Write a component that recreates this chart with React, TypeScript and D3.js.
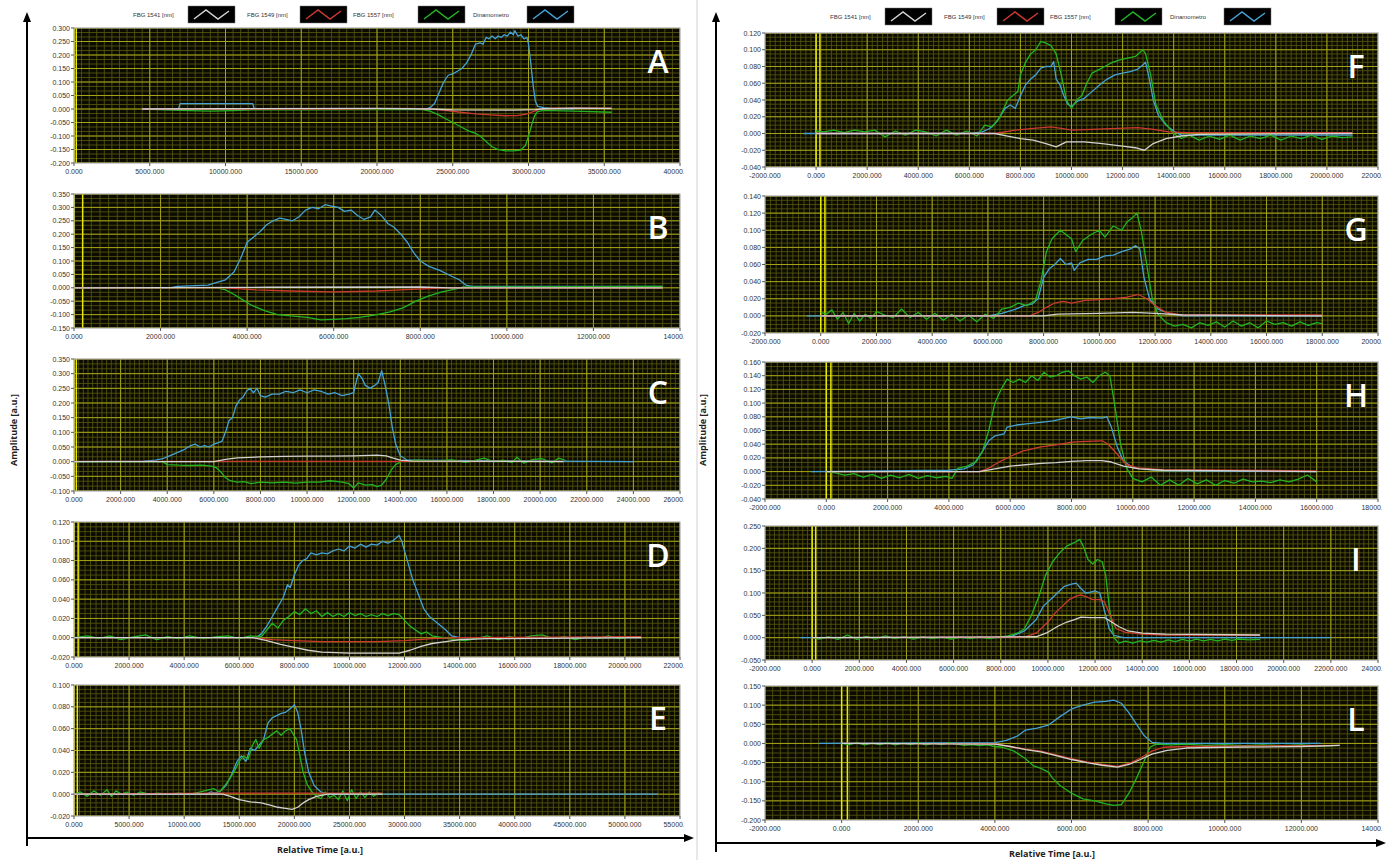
import React from 'react';
import * as d3 from 'd3';

type Pt = [number, number];

// ---------- Legend ----------
const SERIES_NAMES = ['FBG 1541 [nm]', 'FBG 1549 [nm]', 'FBG 1557 [nm]', 'Dinamometro'];
const SERIES_COLORS = ['#d2d2d2', '#cc3a2e', '#22b422', '#45a2d6'];
const PANEL_LETTERS = ['A', 'B', 'C', 'D', 'E', 'F', 'G', 'H', 'I', 'L'];

// ---------- Panel A ----------
const A_blue: Pt[] = [[4500,0],[6900,0],[7000,0.02],[11800,0.02],[11900,0],[23200,0],[23500,0.005],[23800,0.02],[24100,0.06],[24400,0.1],[24700,0.125],[25000,0.13],[25300,0.14],[25600,0.15],[25900,0.17],[26200,0.2],[26500,0.24],[26800,0.245],[27000,0.24],[27200,0.265],[27400,0.26],[27600,0.27],[27800,0.26],[28000,0.27],[28200,0.265],[28400,0.275],[28600,0.27],[28800,0.285],[29000,0.275],[29100,0.29],[29300,0.27],[29500,0.275],[29700,0.26],[29900,0.265],[30000,0.24],[30150,0.17],[30300,0.09],[30450,0.03],[30600,0.01],[31000,0.005],[31500,0.002],[33000,0]];
const A_green: Pt[] = [[4500,0],[7000,-0.005],[9000,-0.008],[10500,-0.006],[11800,-0.003],[15000,-0.003],[20000,-0.002],[23000,-0.002],[23500,-0.008],[24000,-0.02],[24500,-0.035],[25000,-0.05],[25500,-0.065],[26000,-0.08],[26500,-0.09],[26800,-0.1],[27200,-0.12],[27600,-0.14],[28000,-0.15],[28500,-0.155],[29000,-0.155],[29500,-0.152],[29800,-0.135],[30000,-0.1],[30200,-0.06],[30400,-0.025],[30600,-0.01],[31000,-0.005],[33000,-0.008],[35500,-0.012]];
const A_red: Pt[] = [[4500,0],[18000,0],[22000,0.002],[23500,0],[24500,-0.005],[25500,-0.012],[26500,-0.018],[27500,-0.022],[28500,-0.025],[29300,-0.024],[29800,-0.02],[30300,-0.01],[30800,0],[31500,0.003],[35500,0.003]];
const A_white: Pt[] = [[4500,0],[10000,0.001],[20000,0.002],[23500,0],[25000,-0.003],[29000,-0.004],[30500,-0.002],[31000,0.001],[33000,0.003],[35500,0.002]];
const A_cursor = [0, 150];

// ---------- Panel B ----------
const B_blue: Pt[] = [[0,0],[2200,0],[2400,0.005],[2800,0.008],[3100,0.01],[3300,0.02],[3500,0.03],[3700,0.06],[3850,0.11],[4000,0.17],[4150,0.19],[4300,0.21],[4450,0.235],[4600,0.25],[4750,0.26],[4900,0.255],[5050,0.25],[5200,0.265],[5350,0.29],[5500,0.3],[5650,0.295],[5800,0.31],[5950,0.305],[6100,0.3],[6250,0.285],[6400,0.29],[6550,0.27],[6700,0.255],[6850,0.265],[6950,0.29],[7100,0.27],[7250,0.24],[7400,0.225],[7550,0.2],[7700,0.17],[7850,0.13],[8000,0.1],[8200,0.08],[8450,0.065],[8700,0.045],[8900,0.03],[9050,0.01],[9200,0.005],[13600,0.005]];
const B_green: Pt[] = [[0,0],[3300,0],[3500,-0.008],[3700,-0.025],[3900,-0.045],[4100,-0.065],[4400,-0.085],[4700,-0.1],[5000,-0.105],[5400,-0.11],[5700,-0.12],[6000,-0.118],[6300,-0.115],[6600,-0.11],[7000,-0.1],[7300,-0.09],[7600,-0.075],[7900,-0.05],[8200,-0.03],[8500,-0.015],[8800,-0.005],[9000,0.003],[13600,0.005]];
const B_red: Pt[] = [[0,0],[3500,0],[4200,-0.008],[5000,-0.012],[6000,-0.015],[7000,-0.012],[7800,-0.006],[8600,0],[13600,0]];
const B_white: Pt[] = [[0,0],[4500,0.002],[8000,0.003],[8700,0],[13600,0]];
const B_cursor = [0, 200];

// ---------- Panel C ----------
const C_blue: Pt[] = [[0,0],[3000,0.002],[3500,0.005],[3800,0.01],[4100,0.02],[4400,0.03],[4700,0.04],[5000,0.055],[5200,0.06],[5400,0.05],[5600,0.055],[5800,0.05],[6000,0.06],[6200,0.065],[6350,0.07],[6500,0.1],[6650,0.14],[6800,0.15],[6950,0.19],[7100,0.21],[7250,0.22],[7400,0.24],[7550,0.25],[7700,0.235],[7850,0.25],[8000,0.225],[8200,0.22],[8500,0.23],[8800,0.23],[9100,0.24],[9400,0.235],[9700,0.245],[10000,0.235],[10300,0.245],[10600,0.24],[10900,0.23],[11200,0.235],[11500,0.225],[11800,0.23],[12000,0.235],[12100,0.27],[12200,0.3],[12350,0.285],[12500,0.26],[12700,0.25],[12900,0.26],[13050,0.27],[13200,0.31],[13350,0.26],[13500,0.2],[13650,0.12],[13800,0.06],[14000,0.02],[14300,0.005],[24000,0]];
const C_green: Pt[] = [[0,0],[3800,0],[4000,-0.01],[4500,-0.012],[5000,-0.013],[5500,-0.012],[5900,-0.015],[6100,-0.02],[6300,-0.035],[6500,-0.055],[6700,-0.065],[7000,-0.07],[7300,-0.068],[7600,-0.075],[8000,-0.07],[8500,-0.072],[9000,-0.07],[9500,-0.073],[10000,-0.07],[10500,-0.07],[11000,-0.065],[11500,-0.07],[11800,-0.075],[12000,-0.09],[12200,-0.072],[12500,-0.08],[12800,-0.078],[13000,-0.085],[13200,-0.08],[13400,-0.06],[13600,-0.03],[13800,-0.01],[14100,0.003],[14800,0.005],[15500,0.002],[16200,0.006],[16800,-0.002],[17200,0.004],[17600,0.012],[18000,0],[18400,0.005],[18800,-0.003],[19000,0.015],[19300,-0.005],[19700,0.008],[20100,0.01],[20500,-0.004],[20800,0.012],[21100,0.004]];
const C_red: Pt[] = [[0,0.001],[21000,0.001]];
const C_white: Pt[] = [[0,0],[6000,0],[6500,0.008],[7000,0.013],[8000,0.016],[9000,0.018],[10000,0.019],[11000,0.019],[12000,0.02],[13000,0.022],[13400,0.02],[13700,0.012],[14000,0.005],[14500,0.002],[21000,0]];
const C_cursor = [0, 100];

// ---------- Panel D ----------
const D_blue: Pt[] = [[0,0],[6600,0],[6800,0.004],[7000,0.012],[7200,0.022],[7400,0.032],[7600,0.042],[7750,0.055],[7850,0.052],[8000,0.065],[8150,0.075],[8300,0.08],[8450,0.082],[8600,0.088],[8800,0.086],[9000,0.088],[9200,0.087],[9400,0.09],[9600,0.092],[9800,0.09],[10000,0.095],[10200,0.093],[10400,0.097],[10600,0.094],[10800,0.097],[11000,0.096],[11200,0.1],[11400,0.098],[11600,0.101],[11800,0.106],[11900,0.1],[12000,0.09],[12150,0.075],[12300,0.06],[12500,0.045],[12700,0.03],[12900,0.022],[13200,0.015],[13500,0.008],[13700,0.002],[14000,0],[20600,0]];
const D_green: Pt[] = [[0,0],[500,0.002],[900,-0.001],[1300,0.002],[1700,-0.002],[2200,0.001],[2600,0.003],[3000,-0.002],[3400,0.001],[3800,-0.001],[4200,0.002],[4700,-0.001],[5200,0.001],[5600,0.002],[6000,-0.001],[6400,0.002],[6800,0.001],[7000,0.008],[7200,0.015],[7400,0.01],[7600,0.018],[7800,0.022],[8000,0.027],[8200,0.024],[8400,0.03],[8600,0.025],[8800,0.028],[9000,0.022],[9200,0.026],[9400,0.022],[9600,0.025],[9800,0.022],[10000,0.026],[10200,0.023],[10400,0.025],[10600,0.022],[10800,0.024],[11000,0.022],[11200,0.025],[11400,0.023],[11600,0.025],[11800,0.024],[12000,0.018],[12200,0.012],[12400,0.008],[12600,0.004],[12800,0.006],[13000,0.002],[13400,0],[13800,-0.002],[14200,-0.003],[14600,-0.001],[15000,0.002],[15400,-0.002],[15800,0.001],[16200,-0.001],[16600,0.002],[17000,0.003],[17400,-0.001],[17800,0.001],[18200,-0.002],[18600,0.001],[19000,-0.001],[19400,0.002],[19800,-0.001],[20200,0.001],[20600,0]];
const D_red: Pt[] = [[0,0],[6500,0],[7200,-0.002],[8000,-0.003],[9000,-0.004],[10000,-0.004],[11000,-0.004],[12000,-0.003],[13000,-0.001],[14000,0],[20600,0.001]];
const D_white: Pt[] = [[0,0],[6500,0],[7000,-0.003],[7500,-0.007],[8000,-0.01],[8500,-0.013],[9000,-0.015],[10000,-0.016],[11000,-0.016],[11800,-0.016],[12200,-0.013],[12600,-0.009],[13000,-0.006],[13500,-0.004],[14000,-0.002],[15000,-0.001],[20600,0]];
const D_cursor = [0, 150];

// ---------- Panel E ----------
const E_blue: Pt[] = [[0,0],[12000,0],[12400,0.002],[12800,0.001],[13300,0.003],[13800,0.008],[14300,0.018],[14800,0.03],[15200,0.035],[15600,0.03],[16000,0.042],[16400,0.04],[16800,0.045],[17200,0.05],[17600,0.065],[18000,0.07],[18400,0.072],[18800,0.074],[19200,0.075],[19600,0.078],[20000,0.082],[20300,0.075],[20600,0.06],[20900,0.04],[21300,0.02],[21800,0.008],[22400,0.002],[23000,0],[53000,0]];
const E_green: Pt[] = [[0,0],[600,0.002],[1200,-0.002],[1800,0.003],[2400,-0.001],[3000,0.004],[3400,-0.002],[3800,0.003],[4300,0],[4800,0.002],[5400,-0.001],[6000,0.002],[6800,0],[7600,0.001],[8500,0],[9500,0.001],[10500,0],[11500,0.002],[12200,0.004],[12700,0.005],[13200,0.002],[13700,0.008],[14200,0.015],[14600,0.022],[15000,0.03],[15400,0.035],[15800,0.032],[16200,0.045],[16500,0.05],[16800,0.042],[17200,0.05],[17600,0.052],[18000,0.055],[18400,0.058],[18800,0.054],[19200,0.058],[19600,0.06],[19900,0.055],[20200,0.05],[20500,0.035],[20800,0.02],[21200,0.008],[21600,0.002],[22000,-0.002],[22400,-0.004],[22800,0.002],[23200,-0.003],[23600,-0.001],[24000,-0.005],[24400,0.003],[24800,-0.006],[25200,0.004],[25600,-0.004],[26000,0.002],[26400,-0.003],[26800,0.002],[27200,-0.002],[27600,0.001],[28000,0]];
const E_red: Pt[] = [[0,0],[13500,0.001],[28000,0.001]];
const E_white: Pt[] = [[0,0],[13500,0],[14200,-0.002],[15000,-0.005],[16000,-0.007],[17000,-0.008],[17800,-0.01],[18500,-0.012],[19200,-0.013],[19800,-0.014],[20300,-0.012],[20800,-0.008],[21300,-0.005],[22000,-0.002],[23000,0],[28000,0]];
const E_cursor = [0, 300];

// ---------- Panel F ----------
const F_blue: Pt[] = [[-500,0],[6000,0],[6500,0.002],[6800,0.006],[7100,0.015],[7400,0.03],[7600,0.034],[7800,0.03],[8000,0.045],[8200,0.058],[8400,0.065],[8600,0.07],[8800,0.078],[9000,0.08],[9200,0.08],[9300,0.086],[9400,0.065],[9550,0.058],[9700,0.045],[9850,0.035],[10000,0.032],[10200,0.038],[10500,0.042],[10800,0.05],[11100,0.058],[11400,0.065],[11700,0.07],[12000,0.072],[12300,0.074],[12600,0.077],[12800,0.082],[12900,0.085],[13050,0.065],[13200,0.04],[13400,0.022],[13700,0.01],[14000,0.003],[14300,-0.002],[16000,-0.002],[18000,-0.002],[21000,-0.002]];
const F_green: Pt[] = [[0,0.003],[300,0.002],[700,0.004],[1100,0.001],[1500,0.004],[1900,0.002],[2300,0.004],[2700,-0.004],[3100,0.003],[3500,-0.002],[3900,0.004],[4300,0.002],[4700,-0.003],[5100,0.004],[5500,-0.002],[5900,0.003],[6300,-0.003],[6600,0.01],[6900,0.008],[7200,0.02],[7500,0.04],[7700,0.045],[7900,0.05],[8000,0.07],[8200,0.085],[8400,0.095],[8600,0.1],[8800,0.11],[9000,0.108],[9200,0.105],[9400,0.095],[9600,0.07],[9800,0.04],[10000,0.03],[10200,0.04],[10400,0.045],[10600,0.06],[10800,0.072],[11000,0.075],[11300,0.08],[11600,0.085],[11900,0.088],[12200,0.09],[12500,0.092],[12800,0.1],[12900,0.095],[13100,0.07],[13300,0.035],[13600,0.015],[14000,0],[14300,-0.006],[14600,-0.002],[15000,-0.008],[15400,-0.003],[15800,-0.007],[16200,-0.002],[16600,-0.008],[17000,-0.003],[17400,-0.006],[17800,-0.002],[18200,-0.008],[18600,-0.003],[19000,-0.006],[19400,-0.002],[19800,-0.007],[20200,-0.003],[20600,-0.005],[21000,-0.004]];
const F_red: Pt[] = [[0,0],[7000,0],[7800,0.004],[8500,0.006],[9200,0.008],[9600,0.006],[10000,0.004],[10800,0.005],[11800,0.006],[12600,0.007],[13200,0.005],[13800,0.002],[14500,0.001],[21000,0.001]];
const F_white: Pt[] = [[0,0],[7000,0],[7500,-0.003],[8000,-0.006],[8500,-0.008],[9000,-0.012],[9400,-0.016],[9800,-0.01],[10500,-0.01],[11200,-0.012],[12000,-0.015],[12500,-0.017],[12850,-0.02],[13200,-0.012],[13700,-0.006],[14300,-0.003],[15000,-0.001],[21000,0]];
const F_cursor = [0, 150];

// ---------- Panel G ----------
const G_blue: Pt[] = [[-500,0],[6000,0],[6500,0.003],[7000,0.008],[7300,0.012],[7600,0.014],[7800,0.02],[8000,0.045],[8200,0.055],[8400,0.06],[8600,0.067],[8800,0.06],[9000,0.062],[9100,0.053],[9300,0.062],[9600,0.066],[9900,0.066],[10200,0.07],[10500,0.071],[10800,0.075],[11100,0.078],[11300,0.082],[11450,0.078],[11600,0.045],[11800,0.02],[12100,0.008],[12500,0.003],[13000,0],[18000,0]];
const G_green: Pt[] = [[0,0.004],[200,0.002],[400,0.007],[600,-0.004],[800,0.004],[1000,-0.009],[1200,0.003],[1400,-0.006],[1600,0.002],[1800,-0.003],[2000,0.005],[2300,0.001],[2600,-0.002],[2900,0.008],[3200,-0.002],[3500,0.004],[3800,-0.004],[4100,0.003],[4400,-0.005],[4700,0.002],[5000,-0.006],[5300,0.001],[5600,-0.007],[5900,0.002],[6200,-0.003],[6500,0.008],[6800,0.01],[7100,0.015],[7400,0.012],[7700,0.018],[7900,0.04],[8100,0.075],[8300,0.09],[8600,0.1],[8800,0.095],[9000,0.09],[9150,0.075],[9400,0.088],[9700,0.095],[10000,0.1],[10200,0.092],[10500,0.105],[10800,0.1],[11000,0.11],[11200,0.115],[11350,0.12],[11500,0.1],[11700,0.06],[11900,0.02],[12100,0.002],[12400,-0.008],[12700,-0.012],[13000,-0.01],[13300,-0.014],[13600,-0.008],[13900,-0.011],[14200,-0.007],[14500,-0.013],[14800,-0.006],[15100,-0.012],[15400,-0.008],[15700,-0.014],[16000,-0.006],[16300,-0.01],[16600,-0.008],[16900,-0.012],[17200,-0.007],[17500,-0.011],[17800,-0.008],[18000,-0.009]];
const G_red: Pt[] = [[0,0],[7500,0],[7800,0.004],[8100,0.01],[8400,0.015],[8700,0.017],[9000,0.015],[9500,0.018],[10000,0.019],[10500,0.02],[11000,0.022],[11400,0.025],[11700,0.02],[12000,0.012],[12400,0.004],[13000,0.001],[18000,0.001]];
const G_white: Pt[] = [[0,0],[8000,0],[8500,0.002],[10000,0.003],[11200,0.004],[12000,0.003],[13000,0.001],[18000,0]];
const G_cursor = [0, 150];

// ---------- Panel H ----------
const H_blue: Pt[] = [[-500,0],[4000,0.002],[4500,0.004],[4800,0.01],[5100,0.03],[5300,0.045],[5500,0.052],[5800,0.055],[5900,0.065],[6200,0.068],[6600,0.07],[7000,0.072],[7400,0.074],[7800,0.078],[8000,0.08],[8300,0.077],[8600,0.079],[9000,0.078],[9150,0.08],[9300,0.065],[9500,0.035],[9700,0.015],[10000,0.006],[10500,0.003],[11000,0.001],[16000,0]];
const H_green: Pt[] = [[0,0],[300,-0.002],[600,-0.005],[900,-0.003],[1200,-0.008],[1500,-0.004],[1800,-0.01],[2100,-0.005],[2400,-0.009],[2700,-0.004],[3000,-0.01],[3300,-0.006],[3600,-0.009],[3900,-0.007],[4100,-0.01],[4300,0.005],[4600,0.008],[4900,0.015],[5100,0.03],[5300,0.06],[5500,0.1],[5700,0.12],[5900,0.135],[6100,0.13],[6300,0.135],[6500,0.13],[6700,0.14],[6900,0.133],[7100,0.145],[7300,0.138],[7500,0.14],[7700,0.145],[7900,0.147],[8100,0.14],[8300,0.135],[8500,0.138],[8700,0.13],[8900,0.14],[9100,0.145],[9250,0.14],[9400,0.1],[9600,0.04],[9800,0.005],[10000,-0.01],[10300,-0.015],[10600,-0.008],[10900,-0.02],[11200,-0.012],[11500,-0.02],[11800,-0.01],[12100,-0.018],[12400,-0.012],[12700,-0.02],[13000,-0.013],[13300,-0.017],[13600,-0.011],[13900,-0.015],[14200,-0.014],[14500,-0.016],[14800,-0.012],[15100,-0.015],[15400,-0.011],[15700,-0.005],[16000,-0.015]];
const H_red: Pt[] = [[0,0],[5000,0],[5300,0.005],[5600,0.013],[6000,0.022],[6400,0.03],[7000,0.036],[7500,0.039],[8000,0.043],[8500,0.044],[9000,0.045],[9200,0.04],[9500,0.025],[9800,0.01],[10200,0.005],[11000,0.003],[16000,0.001]];
const H_white: Pt[] = [[0,0],[5000,0],[5500,0.004],[6000,0.008],[6500,0.01],[7000,0.012],[7500,0.013],[8000,0.015],[8500,0.016],[9000,0.016],[9300,0.014],[9700,0.008],[10200,0.004],[11000,0.002],[16000,0]];
const H_cursor = [0, 150];

// ---------- Panel I ----------
const I_blue: Pt[] = [[-500,0],[8000,0],[8500,0.004],[9000,0.015],[9500,0.04],[9800,0.07],[10100,0.085],[10400,0.1],[10700,0.115],[11000,0.12],[11200,0.122],[11400,0.11],[11600,0.1],[11800,0.102],[12000,0.105],[12200,0.1],[12400,0.06],[12600,0.02],[12800,0.005],[13200,0],[22000,0]];
const I_green: Pt[] = [[0,0],[300,-0.003],[700,0.002],[1100,-0.004],[1500,0.006],[1900,-0.004],[2300,0.003],[2700,-0.003],[3100,0.004],[3500,-0.002],[3900,0.002],[4300,-0.003],[4700,0.002],[5100,-0.002],[5500,0.001],[5900,-0.003],[6300,0.001],[6700,-0.002],[7100,0.002],[7500,-0.002],[7900,0.001],[8300,0.004],[8700,0.01],[9000,0.02],[9300,0.05],[9600,0.09],[9900,0.14],[10200,0.17],[10500,0.19],[10800,0.205],[11000,0.21],[11200,0.215],[11350,0.22],[11500,0.205],[11700,0.175],[11900,0.165],[12100,0.175],[12300,0.17],[12450,0.14],[12600,0.07],[12800,0],[13000,-0.012],[13300,-0.008],[13600,-0.012],[13900,-0.007],[14200,-0.01],[14500,-0.006],[14800,-0.01],[15100,-0.005],[15400,-0.009],[15700,-0.004],[16000,-0.008],[16300,-0.003],[16600,-0.007],[16900,-0.004],[17200,-0.007],[17500,-0.003],[17800,-0.006],[18100,-0.003],[18500,-0.005],[19000,-0.004]];
const I_red: Pt[] = [[0,0],[9000,0.001],[9500,0.01],[10000,0.035],[10300,0.055],[10600,0.07],[10900,0.085],[11200,0.093],[11400,0.096],[11700,0.09],[11900,0.085],[12200,0.085],[12400,0.08],[12600,0.055],[12900,0.02],[13300,0.012],[14000,0.008],[15000,0.006],[19000,0.005]];
const I_white: Pt[] = [[0,0],[9500,0.002],[10000,0.012],[10400,0.025],[10800,0.035],[11100,0.04],[11400,0.046],[11800,0.045],[12400,0.045],[12700,0.035],[13000,0.025],[13400,0.015],[14000,0.01],[15000,0.008],[19000,0.006]];
const I_cursor = [0, 150];

// ---------- Panel L ----------
const L_blue: Pt[] = [[-600,0],[4000,0.002],[4300,0.008],[4600,0.02],[4800,0.035],[5100,0.04],[5400,0.048],[5700,0.07],[6000,0.09],[6300,0.1],[6600,0.108],[6900,0.11],[7100,0.113],[7300,0.105],[7500,0.08],[7700,0.05],[7900,0.02],[8100,0.003],[8400,0],[12500,0]];
const L_green: Pt[] = [[0,0],[200,-0.003],[400,0.002],[600,-0.004],[800,0.001],[1000,-0.003],[1200,0.002],[1400,-0.004],[1600,0.001],[1800,-0.003],[2000,0.002],[2200,-0.004],[2400,0.001],[2600,-0.003],[2800,0.002],[3000,-0.002],[3200,-0.005],[3400,-0.003],[3600,-0.006],[3800,-0.004],[4000,-0.008],[4200,-0.01],[4500,-0.02],[4800,-0.04],[5000,-0.058],[5200,-0.065],[5400,-0.075],[5500,-0.09],[5700,-0.11],[6000,-0.13],[6300,-0.145],[6600,-0.15],[6900,-0.158],[7100,-0.162],[7300,-0.16],[7500,-0.13],[7700,-0.09],[7900,-0.045],[8050,-0.01],[8200,-0.002],[8600,-0.004],[9000,-0.002],[9500,-0.005],[10000,-0.003],[10500,-0.006],[11000,-0.004],[11500,-0.006],[12000,-0.004],[12500,-0.007],[13000,-0.005]];
const L_red: Pt[] = [[0,0],[4000,-0.001],[4400,-0.008],[4800,-0.015],[5200,-0.02],[5600,-0.03],[6000,-0.04],[6400,-0.048],[6800,-0.055],[7200,-0.06],[7500,-0.052],[7800,-0.038],[8100,-0.02],[8400,-0.01],[9000,-0.008],[10000,-0.007],[12000,-0.006],[13000,-0.005]];
const L_white: Pt[] = [[0,0],[4000,-0.002],[4400,-0.008],[4800,-0.016],[5200,-0.022],[5600,-0.032],[6000,-0.042],[6400,-0.05],[6800,-0.057],[7200,-0.062],[7500,-0.055],[7800,-0.042],[8100,-0.028],[8500,-0.018],[9000,-0.012],[10000,-0.01],[12000,-0.008],[13000,-0.005]];
const L_cursor = [0, 150];

// ---------- Axis domains ----------
const X_DOMAINS: [number, number, number][] = [
  [0, 40000, 5000], [0, 14000, 2000], [0, 26000, 2000], [0, 22000, 2000], [0, 55000, 5000],
  [-2000, 22000, 2000], [-2000, 20000, 2000], [-2000, 18000, 2000], [-2000, 24000, 2000], [-2000, 14000, 2000],
];
const Y_DOMAINS: [number, number, number][] = [
  [-0.2, 0.3, 0.05], [-0.15, 0.35, 0.05], [-0.1, 0.35, 0.05], [-0.02, 0.12, 0.02], [-0.02, 0.1, 0.02],
  [-0.04, 0.12, 0.02], [-0.02, 0.14, 0.02], [-0.04, 0.16, 0.02], [-0.05, 0.25, 0.05], [-0.2, 0.15, 0.05],
];
const SERIES_DATA: Pt[][][] = [
  [A_white, A_red, A_green, A_blue], [B_white, B_red, B_green, B_blue], [C_white, C_red, C_green, C_blue],
  [D_white, D_red, D_green, D_blue], [E_white, E_red, E_green, E_blue], [F_white, F_red, F_green, F_blue],
  [G_white, G_red, G_green, G_blue], [H_white, H_red, H_green, H_blue], [I_white, I_red, I_green, I_blue],
  [L_white, L_red, L_green, L_blue],
];
const CURSORS = [A_cursor, B_cursor, C_cursor, D_cursor, E_cursor, F_cursor, G_cursor, H_cursor, I_cursor, L_cursor];

// ---------- Layout (positions only) ----------
const LEFT_X = [74, 680];
const RIGHT_X = [765, 1378];
const PANEL_Y: [number, number][] = [
  [28, 163], [194, 328], [359, 491], [522, 657], [685, 816],
  [33, 167], [196, 333], [362, 499], [526, 660], [686, 820],
];

const fmt = (v: number) => (Math.abs(v) < 1e-9 ? '0.000' : v.toFixed(3));

function Panel({ idx }: { idx: number }) {
  const [x0, x1] = idx < 5 ? LEFT_X : RIGHT_X;
  const [top, bottom] = PANEL_Y[idx];
  const [xmin, xmax, xstep] = X_DOMAINS[idx];
  const [ymin, ymax, ystep] = Y_DOMAINS[idx];
  const x = d3.scaleLinear().domain([xmin, xmax]).range([x0, x1]);
  const y = d3.scaleLinear().domain([ymin, ymax]).range([bottom, top]);
  const nx = Math.round((xmax - xmin) / xstep);
  const ny = Math.round((ymax - ymin) / ystep);
  const xt = d3.range(nx + 1).map(i => xmin + i * xstep);
  const yt = d3.range(ny + 1).map(i => ymin + i * ystep);
  const xm = d3.range(nx * 10 + 1).map(i => xmin + (i * xstep) / 10);
  const ysub = Math.max(2, Math.round((bottom - top) / ny / 4.5));
  const ym = d3.range(ny * ysub + 1).map(i => ymin + (i * ystep) / ysub);
  const line = d3.line<Pt>().x(d => x(d[0])).y(d => y(d[1]));
  const clipId = `clip${idx}`;
  const lblClip = `lclip${idx}`;
  const letter = PANEL_LETTERS[idx];
  return (
    <g>
      <defs>
        <clipPath id={clipId}><rect x={x0} y={top} width={x1 - x0} height={bottom - top} /></clipPath>
        <clipPath id={lblClip}><rect x={x0 - 40} y={bottom} width={x1 - x0 + 44} height={20} /></clipPath>
      </defs>
      <rect x={x0} y={top} width={x1 - x0} height={bottom - top} fill="#0b0b00" />
      <g clipPath={`url(#${clipId})`}>
        {xm.map((v, i) => <line key={'xm' + i} x1={x(v)} x2={x(v)} y1={top} y2={bottom} stroke="#5a5a10" strokeWidth={0.8} />)}
        {ym.map((v, i) => <line key={'ym' + i} x1={x0} x2={x1} y1={y(v)} y2={y(v)} stroke="#5a5a10" strokeWidth={0.8} />)}
        {xt.map((v, i) => <line key={'xt' + i} x1={x(v)} x2={x(v)} y1={top} y2={bottom} stroke="#a3a318" strokeWidth={1} />)}
        {yt.map((v, i) => <line key={'yt' + i} x1={x0} x2={x1} y1={y(v)} y2={y(v)} stroke="#a3a318" strokeWidth={1} />)}
        {CURSORS[idx].map((v, i) => <line key={'c' + i} x1={x(v)} x2={x(v)} y1={top} y2={bottom} stroke="#e8e800" strokeWidth={1.5} />)}
        {[3, 2, 1, 0].map(s => (
          <path key={'s' + s} d={line(SERIES_DATA[idx][s]) || ''} fill="none" stroke={SERIES_COLORS[s]} strokeWidth={1.3} strokeLinejoin="round" />
        ))}
      </g>
      <rect x={x0} y={top} width={x1 - x0} height={bottom - top} fill="none" stroke="#9a9a9a" strokeWidth={1} />
      {yt.map((v, i) => (
        <g key={'yl' + i}>
          <line x1={x0 - 3} x2={x0} y1={y(v)} y2={y(v)} stroke="#555" />
          <text x={x0 - 4} y={y(v) + 2.5} fontSize={7} textAnchor="end" fill="#333" fontFamily="Liberation Sans, Arial, sans-serif">{fmt(v)}</text>
        </g>
      ))}
      <g clipPath={`url(#${lblClip})`}>
        {xt.map((v, i) => (
          <g key={'xl' + i}>
            <line x1={x(v)} x2={x(v)} y1={bottom} y2={bottom + 3} stroke="#555" />
            <text x={x(v)} y={bottom + 11} fontSize={7} textAnchor="middle" fill="#333" fontFamily="Liberation Sans, Arial, sans-serif">{fmt(v)}</text>
          </g>
        ))}
      </g>
      <text x={x1 - 22} y={top + 45} fontSize={32} fontWeight="600" textAnchor="middle" fill="#fff" fontFamily="Open Sans, sans-serif">{letter}</text>
    </g>
  );
}

function Legend({ x0, y0 }: { x0: number; y0: number }) {
  const textX = [0, 114, 220, 340];
  const swX = [55, 167, 285, 394];
  return (
    <g>
      {SERIES_NAMES.map((n, i) => {
        const sx = x0 + swX[i];
        const zig = `M${sx + 6},${y0 + 13} L${sx + 18},${y0 + 4} L${sx + 30},${y0 + 13} L${sx + 41},${y0 + 5}`;
        return (
          <g key={n}>
            <text x={x0 + textX[i]} y={y0 + 11} fontSize={6} fill="#333" fontFamily="Liberation Sans, Arial, sans-serif">{n}</text>
            <rect x={sx} y={y0} width={47} height={17} fill="#000" stroke="#777" strokeWidth={0.5} />
            <path d={zig} fill="none" stroke={SERIES_COLORS[i]} strokeWidth={1.5} />
          </g>
        );
      })}
    </g>
  );
}

function Arrows({ ax, yTop, yBot, xEnd, yAxis }: { ax: number; yTop: number; yBot: number; xEnd: number; yAxis: number }) {
  return (
    <g>
      <line x1={ax} x2={ax} y1={yBot} y2={yTop + 8} stroke="#000" strokeWidth={2} />
      <polygon points={`${ax - 4},${yTop + 10} ${ax + 4},${yTop + 10} ${ax},${yTop}`} fill="#000" />
      <line x1={ax} x2={xEnd - 8} y1={yAxis} y2={yAxis} stroke="#000" strokeWidth={2} />
      <polygon points={`${xEnd - 10},${yAxis - 4} ${xEnd - 10},${yAxis + 4} ${xEnd},${yAxis}`} fill="#000" />
    </g>
  );
}

export default function App() {
  return (
    <svg width={1388} height={860} style={{ position: 'absolute', left: 0, top: 0, background: '#fff' }}>
      <line x1={697} x2={697} y1={0} y2={860} stroke="#d0d0d0" strokeWidth={1} />
      <Arrows ax={27} yTop={12} yBot={846} xEnd={694} yAxis={838} />
      <Arrows ax={716} yTop={12} yBot={852} xEnd={1386} yAxis={843} />
      <text transform="translate(17,430) rotate(-90)" fontSize={9} fontWeight="bold" textAnchor="middle" fill="#222" fontFamily="Open Sans, sans-serif">Amplitude [a.u.]</text>
      <text transform="translate(706,430) rotate(-90)" fontSize={9} fontWeight="bold" textAnchor="middle" fill="#222" fontFamily="Open Sans, sans-serif">Amplitude [a.u.]</text>
      <text x={320} y={853} fontSize={9} fontWeight="bold" textAnchor="middle" fill="#222" fontFamily="Open Sans, sans-serif">Relative Time [a.u.]</text>
      <text x={1052} y={857} fontSize={9} fontWeight="bold" textAnchor="middle" fill="#222" fontFamily="Open Sans, sans-serif">Relative Time [a.u.]</text>
      <Legend x0={133} y0={6} />
      <Legend x0={830} y0={8} />
      {d3.range(10).map(i => <Panel key={i} idx={i} />)}
    </svg>
  );
}
